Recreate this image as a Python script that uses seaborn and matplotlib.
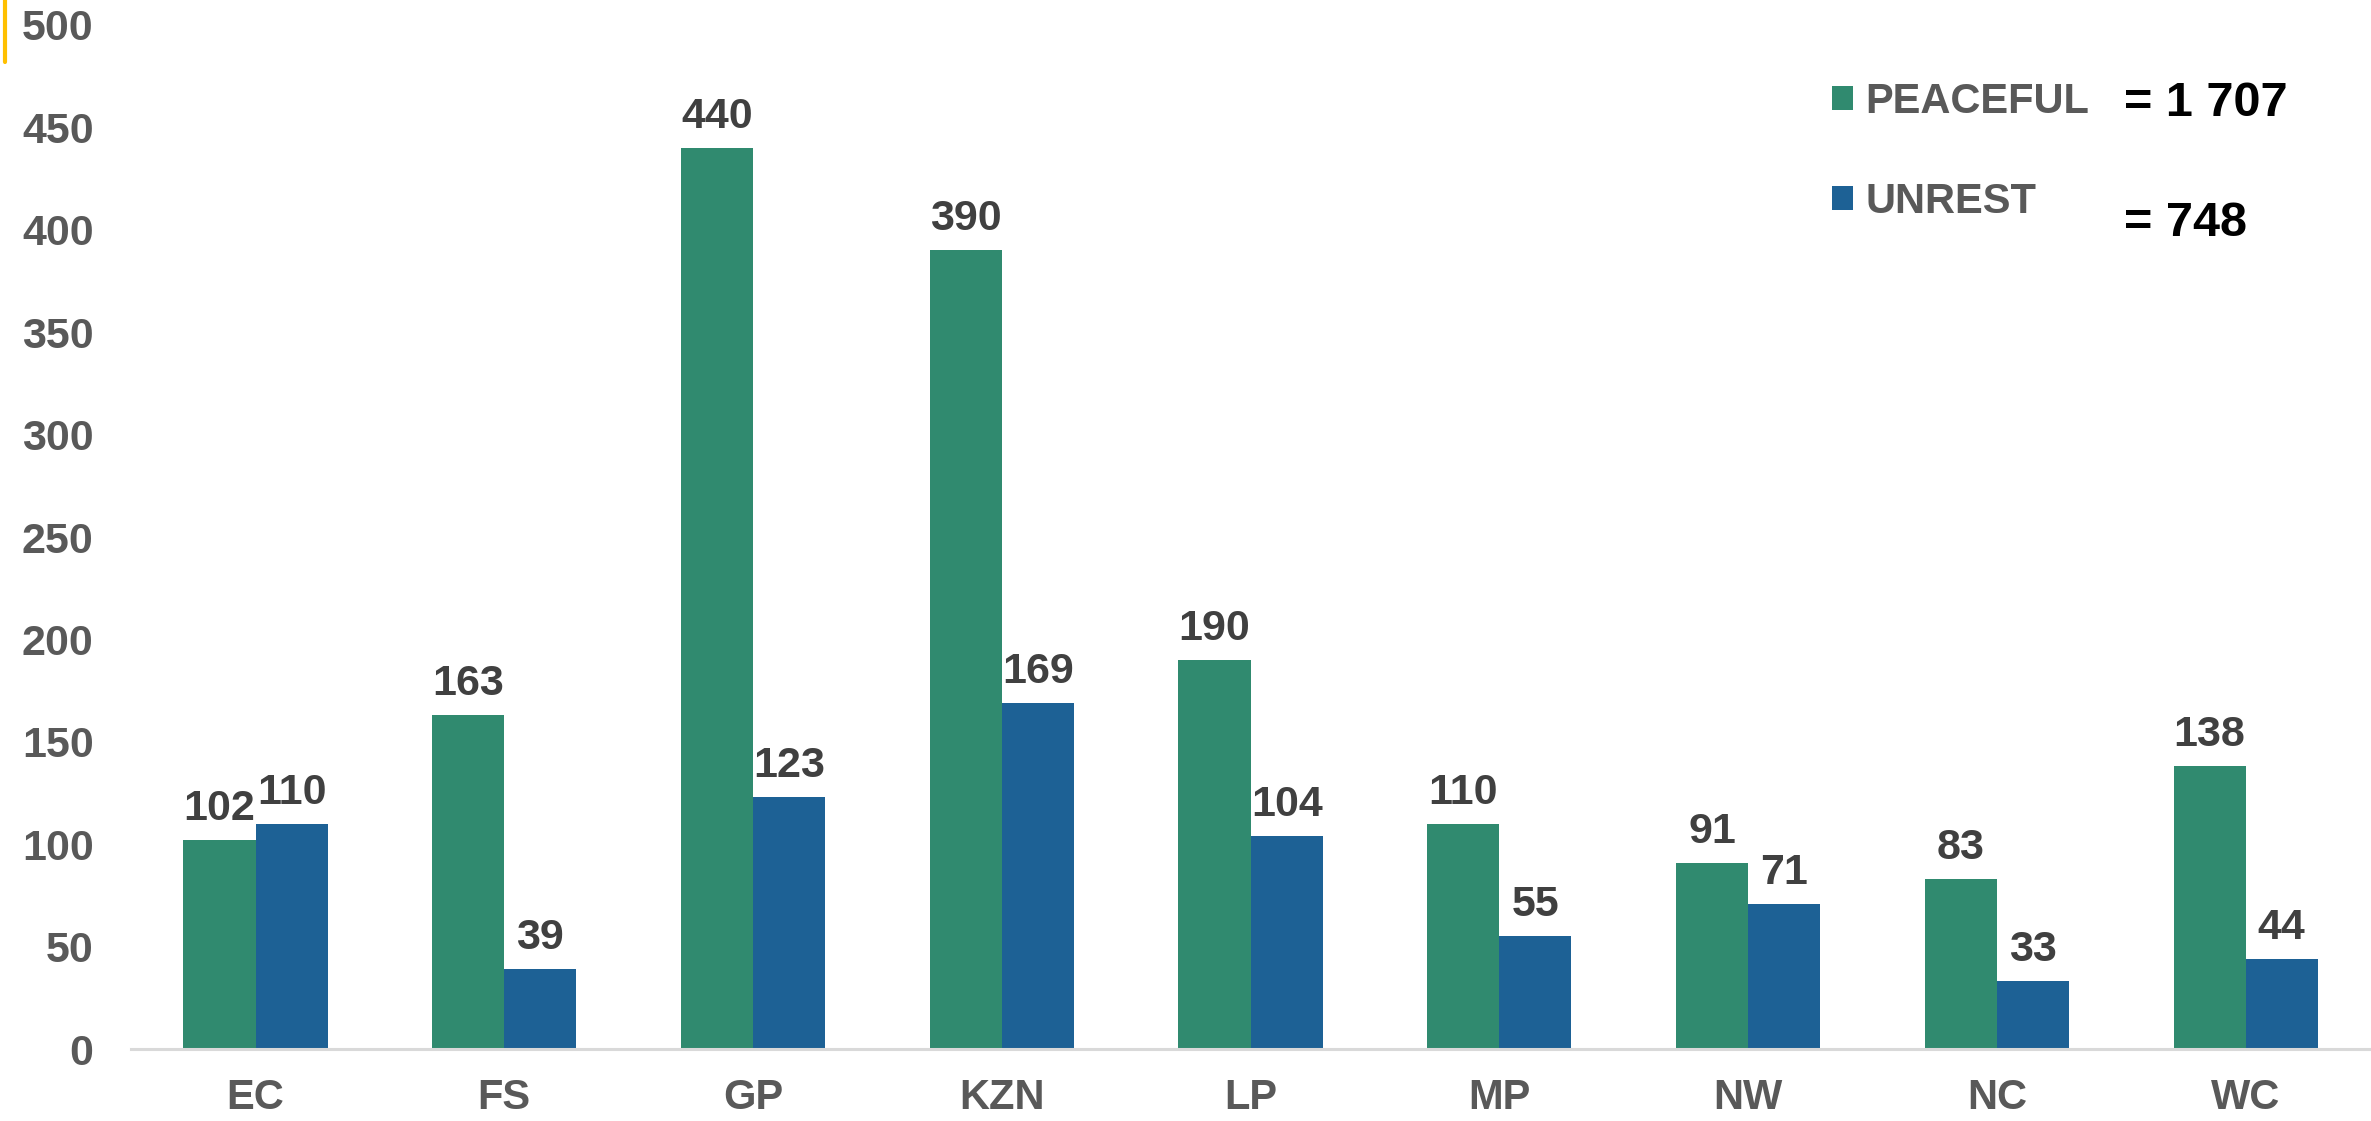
import matplotlib
matplotlib.use("Agg")
import matplotlib.pyplot as plt
from matplotlib.lines import Line2D
import pandas as pd
import seaborn as sns

# Protest counts per province
provinces = ["EC", "FS", "GP", "KZN", "LP", "MP", "NW", "NC", "WC"]
peaceful = [102, 163, 440, 390, 190, 110, 91, 83, 138]
unrest = [110, 39, 123, 169, 104, 55, 71, 33, 44]
series_names = ["PEACEFUL", "UNREST"]
series_colors = ["#308A6F", "#1D6195"]
y_ticks = [0, 50, 100, 150, 200, 250, 300, 350, 400, 450, 500]

df = pd.DataFrame({
    "province": provinces * 2,
    "count": peaceful + unrest,
    "kind": [series_names[0]] * len(provinces) + [series_names[1]] * len(provinces),
})

sns.set_theme(style="white")
plt.rcParams["font.family"] = ["Liberation Sans", "DejaVu Sans"]
plt.rcParams["font.weight"] = "bold"

fig = plt.figure(figsize=(23.71, 11.21), dpi=100)
ax = fig.add_axes([0.0553, 0.0642, 0.9443, 0.9135])

sns.barplot(data=df, x="province", y="count", hue="kind", order=provinces,
            hue_order=series_names, palette=series_colors, width=0.58, gap=0,
            saturation=1, ax=ax, errorbar=None, linewidth=0)

ax.set_xlim(-0.5, len(provinces) - 0.5)
ax.set_ylim(0, 500)
ax.set_yticks(y_ticks)
ax.set_xlabel("")
ax.set_ylabel("")

for c in ax.containers:
    ax.bar_label(c, padding=8, fontsize=31, fontweight="bold", color="#404040")

for s in ["top", "right", "left"]:
    ax.spines[s].set_visible(False)
ax.spines["bottom"].set_color("#D9D9D9")
ax.spines["bottom"].set_linewidth(2.2)

ax.tick_params(axis="y", length=0, pad=27, labelsize=31, labelcolor="#595959")
ax.tick_params(axis="x", length=0, pad=21, labelsize=30, labelcolor="#595959")
for lab in ax.get_xticklabels() + ax.get_yticklabels():
    lab.set_fontweight("bold")

# Legend with series totals beside it
handles, labels = ax.get_legend_handles_labels()
leg = ax.legend(handles, labels, loc="upper left",
                bbox_to_anchor=(1832 / 2371, 1 - 82 / 1121),
                bbox_transform=fig.transFigure, frameon=False, borderpad=0,
                borderaxespad=0, fontsize=30, handlelength=0.5, handleheight=0.5,
                handletextpad=0.31, labelspacing=1.44)
for t in leg.get_texts():
    t.set_color("#595959")
    t.set_fontweight("bold")

totals = [sum(peaceful), sum(unrest)]
total_y = [104, 223]
for tot, ypx in zip(totals, total_y):
    txt = "= " + f"{tot:,}".replace(",", " ")
    fig.text(2124 / 2371, 1 - ypx / 1121, txt, fontsize=35, fontweight="bold",
             color="black", ha="left", va="center")

# Accent mark in the top-left corner
fig.add_artist(Line2D([5 / 2371, 5 / 2371], [1, 1 - 62 / 1121],
                      transform=fig.transFigure, color="#FFC000", linewidth=3))

fig.savefig("out.png", dpi=100)
